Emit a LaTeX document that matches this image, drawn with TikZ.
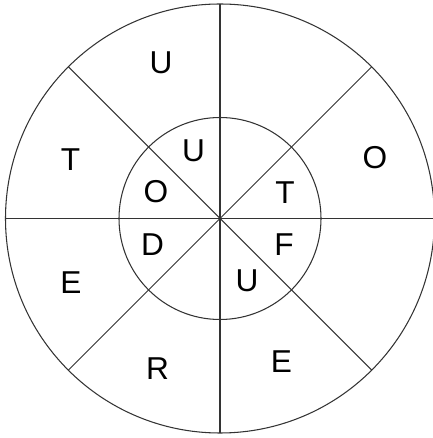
\documentclass[tikz,border=0pt]{standalone}
\usepackage{fontspec}
\setmainfont{Liberation Sans}
\usetikzlibrary{positioning}

\begin{document}
\begin{tikzpicture}[
  rim/.style={line width=0.6pt, draw=black!80},
  ltr/.style={font=\fontsize{18}{21}\selectfont, inner sep=0pt}
]
  \useasboundingbox (-4.40,-4.39) rectangle (4.24,4.37);

  % circles
  \draw[rim] (0,0) circle (4.29);
  \draw[rim] (0,0) circle (2.02);

  % spokes
  \foreach \a in {0,45,90,135}
    \draw[rim] (\a:4.29) -- (\a+180:4.29);

  % outer ring
  \node[ltr] (outU) at (-1.18, 3.12) {U};
  \node[ltr] (outT) at (-2.99, 1.18) {T};
  \node[ltr] (outO) at (3.10, 1.22) {O};
  \node[ltr] (outE) at (-2.98,-1.29) {E};
  \node[ltr] (outR) at (-1.25,-3.01) {R};
  \node[ltr] (outEb) at (1.23,-2.87) {E};

  % inner ring
  \node[ltr] (inU) at (-0.53, 1.35) {U};
  \node[ltr] (inO) at (-1.28, 0.53) {O};
  \node[ltr] (inT) at (1.30, 0.51) {T};
  \node[ltr] (inD) at (-1.35,-0.53) {D};
  \node[ltr] (inF) at (1.28,-0.53) {F};
  \node[ltr] (inUb) at (0.54,-1.24) {U};
\end{tikzpicture}
\end{document}
